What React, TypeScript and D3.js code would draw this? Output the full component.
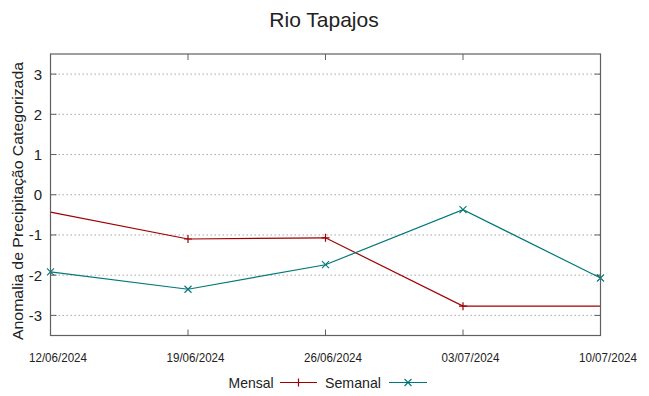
import React, { useEffect, useRef } from "react";
import * as d3 from "d3";

const dates = ["2024-06-12", "2024-06-19", "2024-06-26", "2024-07-03", "2024-07-10"];
const tickLabels = ["12/06/2024", "19/06/2024", "26/06/2024", "03/07/2024", "10/07/2024"];
const mensal = [-0.43, -1.1, -1.07, -2.77, -2.77];
const mensalMarked = [false, true, true, true, false];
const semanal = [-1.92, -2.35, -1.74, -0.37, -2.07];
const yTicks = [-3, -2, -1, 0, 1, 2, 3];

const App = () => {
  const ref = useRef<SVGSVGElement>(null);

  useEffect(() => {
    const width = 649;
    const height = 396;
    const svg = d3.select(ref.current);
    svg.selectAll("*").remove();

    const parse = d3.timeParse("%Y-%m-%d");
    const days = dates.map((d) => parse(d) as Date);

    const x = d3.scaleTime().domain([days[0], days[days.length - 1]]).range([50.5, 600.5]);
    const y = d3.scaleLinear().domain([-3.5, 3.5]).range([335.5, 54]);
    const font = "'Liberation Sans', Arial, sans-serif";
    const border = "#606060";

    // title
    svg.append("text")
      .attr("x", 324).attr("y", 27)
      .attr("text-anchor", "middle")
      .style("font-family", font).style("font-size", "21px").attr("fill", "#222")
      .text("Rio Tapajos");

    // grid
    svg.append("g").selectAll("line").data(yTicks).enter().append("line")
      .attr("x1", 50.5).attr("x2", 600.5)
      .attr("y1", (d) => y(d)).attr("y2", (d) => y(d))
      .attr("stroke", "#a8a8a8").attr("stroke-width", 1)
      .attr("stroke-dasharray", "1.5,2.5");

    // ticks, inward on every side
    const tk = 6;
    const ticks = svg.append("g").attr("stroke", border).attr("stroke-width", 1);
    yTicks.forEach((t) => {
      ticks.append("line").attr("x1", 50.5).attr("x2", 50.5 + tk).attr("y1", y(t)).attr("y2", y(t));
      ticks.append("line").attr("x1", 600.5).attr("x2", 600.5 - tk).attr("y1", y(t)).attr("y2", y(t));
    });
    days.forEach((d) => {
      ticks.append("line").attr("x1", x(d)).attr("x2", x(d)).attr("y1", 335.5).attr("y2", 335.5 - tk);
      ticks.append("line").attr("x1", x(d)).attr("x2", x(d)).attr("y1", 54).attr("y2", 54 + tk);
    });

    // y tick labels
    svg.append("g").selectAll("text").data(yTicks).enter().append("text")
      .attr("x", 42).attr("y", (d) => y(d) + 5.5)
      .attr("text-anchor", "end")
      .style("font-family", font).style("font-size", "15px").attr("fill", "#222")
      .text((d) => d);

    // x tick labels
    svg.append("g").selectAll("text").data(days).enter().append("text")
      .attr("x", (d) => x(d) + 7.5 - 29).attr("y", 362)
      .attr("textLength", 58).attr("lengthAdjust", "spacingAndGlyphs")
      .style("font-family", font).style("font-size", "13.5px").attr("fill", "#222")
      .text((d, i) => tickLabels[i]);

    // y label
    svg.append("text")
      .attr("transform", "translate(23,201) rotate(-90)")
      .attr("text-anchor", "middle")
      .attr("textLength", 278).attr("lengthAdjust", "spacingAndGlyphs")
      .style("font-family", font).style("font-size", "15.5px").attr("fill", "#222")
      .text("Anomalia de Precipitação Categorizada");

    const line = d3.line<number>().x((d, i) => x(days[i])).y((d) => y(d));
    const red = "#a00000";
    const teal = "#007878";

    svg.append("path").datum(mensal).attr("d", line)
      .attr("fill", "none").attr("stroke", red).attr("stroke-width", 1.2);
    svg.append("path").datum(semanal).attr("d", line)
      .attr("fill", "none").attr("stroke", teal).attr("stroke-width", 1.2);

    const plus = (g: any, cx: number, cy: number, c: string) => {
      g.append("path").attr("d", `M${cx - 4},${cy}H${cx + 4}M${cx},${cy - 4}V${cy + 4}`)
        .attr("stroke", c).attr("stroke-width", 1.2).attr("fill", "none");
    };
    const cross = (g: any, cx: number, cy: number, c: string) => {
      g.append("path").attr("d", `M${cx - 3.5},${cy - 3.5}L${cx + 3.5},${cy + 3.5}M${cx - 3.5},${cy + 3.5}L${cx + 3.5},${cy - 3.5}`)
        .attr("stroke", c).attr("stroke-width", 1.1).attr("fill", "none");
    };

    const marks = svg.append("g");
    mensal.forEach((v, i) => { if (mensalMarked[i]) plus(marks, x(days[i]), y(v), red); });
    semanal.forEach((v, i) => cross(marks, x(days[i]), y(v), teal));

    // border
    svg.append("rect")
      .attr("x", 50.5).attr("y", 54).attr("width", 550).attr("height", 281.5)
      .attr("fill", "none").attr("stroke", border).attr("stroke-width", 1.2);

    // legend
    const lg = svg.append("g").style("font-family", font).style("font-size", "15px").attr("fill", "#222");
    lg.append("text").attr("x", 228.5).attr("y", 387.5)
      .attr("textLength", 45).attr("lengthAdjust", "spacingAndGlyphs").text("Mensal");
    lg.append("line").attr("x1", 280).attr("x2", 317).attr("y1", 382.5).attr("y2", 382.5)
      .attr("stroke", red).attr("stroke-width", 1.2);
    plus(lg, 298.5, 382.5, red);
    lg.append("text").attr("x", 325).attr("y", 387.5)
      .attr("textLength", 56).attr("lengthAdjust", "spacingAndGlyphs").text("Semanal");
    lg.append("line").attr("x1", 389).attr("x2", 427).attr("y1", 382.5).attr("y2", 382.5)
      .attr("stroke", teal).attr("stroke-width", 1.2);
    cross(lg, 408, 382.5, teal);

    svg.attr("width", width).attr("height", height);
  }, []);

  return (
    <div style={{ position: "absolute", left: 0, top: 0 }}>
      <svg ref={ref} width={649} height={396} style={{ display: "block", background: "#fff" }} />
    </div>
  );
};

export default App;
